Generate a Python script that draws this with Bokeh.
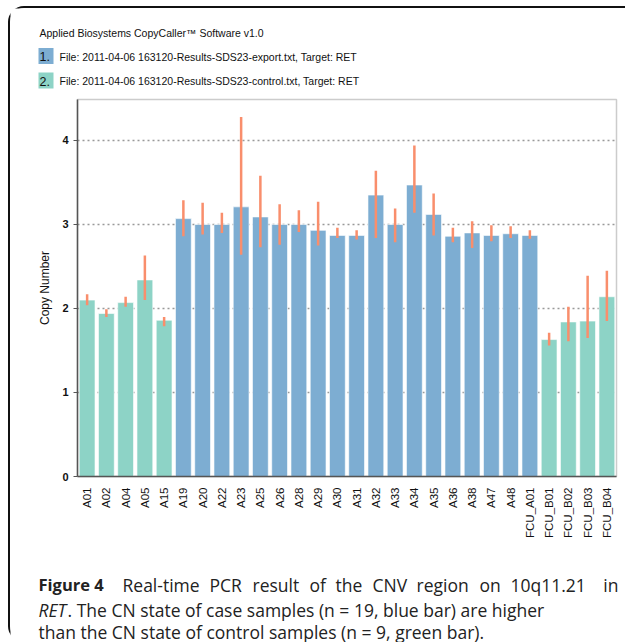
from bokeh.plotting import figure
from bokeh.models import Range1d, FactorRange, ColumnDataSource
from bokeh.layouts import column
from bokeh.transform import factor_cmap
from bokeh.core.properties import value
from bokeh.embed import file_html
from bokeh.resources import INLINE
import math

samples = ["A01", "A02", "A04", "A05", "A15", "A19", "A20", "A22", "A23", "A25",
           "A26", "A28", "A29", "A30", "A31", "A32", "A33", "A34", "A35", "A36",
           "A38", "A47", "A48", "FCU_A01", "FCU_B01", "FCU_B02", "FCU_B03", "FCU_B04"]
groups = ["control"] * 5 + ["case"] * 19 + ["control"] * 4
copy_number = [2.10, 1.94, 2.07, 2.34, 1.86, 3.07, 3.00, 3.00, 3.21, 3.09,
               3.00, 3.00, 2.93, 2.87, 2.87, 3.35, 3.00, 3.47, 3.12, 2.86,
               2.90, 2.87, 2.89, 2.87, 1.63, 1.84, 1.85, 2.14]
err_low = [2.04, 1.90, 2.02, 2.10, 1.79, 2.86, 2.88, 2.90, 2.64, 2.73,
           2.76, 2.91, 2.75, 2.84, 2.82, 2.84, 2.79, 3.14, 2.87, 2.79,
           2.72, 2.80, 2.84, 2.83, 1.56, 1.61, 1.65, 1.85]
err_high = [2.17, 1.99, 2.14, 2.63, 1.90, 3.29, 3.26, 3.14, 4.28, 3.58,
            3.24, 3.17, 3.27, 2.96, 2.93, 3.64, 3.19, 3.94, 3.37, 2.96,
            3.04, 2.99, 2.98, 2.93, 1.71, 2.02, 2.39, 2.45]
y_ticks = [0, 1, 2, 3, 4]
legend_labels = ["File: 2011-04-06 163120-Results-SDS23-export.txt, Target: RET",
                 "File: 2011-04-06 163120-Results-SDS23-control.txt, Target: RET"]
header_text = "Applied Biosystems CopyCaller\u2122 Software v1.0"

BLUE = "#7DADD2"
GREEN = "#8DD3C6"
ERR = "#F98E6C"
INK = "#111111"
CAPINK = "#222222"
W = 615
HFONT = "Liberation Sans"


def blank(width, height):
    f = figure(width=width, height=height, output_backend="svg", toolbar_location=None,
               x_range=Range1d(0, width), y_range=Range1d(height, 0),
               min_border=0, min_border_left=0, min_border_right=0,
               min_border_top=0, min_border_bottom=0, frame_align=False)
    f.axis.visible = False
    f.grid.visible = False
    f.outline_line_color = None
    return f


def txt(f, x, y, t, font="Liberation Sans", size="12px", style="normal", align="left",
        color=INK):
    f.text(x=[x], y=[y], text=[t], text_font=value(font), text_font_size=value(size),
           text_font_style=style, text_align=align, text_baseline="middle",
           text_color=color)


# ---------- header ----------
hdr = blank(W, 84)
txt(hdr, 29, 24, header_text, font=HFONT, size="10.5px")
hdr.rect(x=[35.5, 35.5], y=[47.5, 72], width=15, height=16, fill_color=[BLUE, GREEN], line_color=None)
txt(hdr, 29, 48, "1.", size="12.5px")
txt(hdr, 29, 72.5, "2.", size="12.5px")
txt(hdr, 49, 48, legend_labels[0], font=HFONT, size="10.5px")
txt(hdr, 49, 72.5, legend_labels[1], font=HFONT, size="10.5px")

# ---------- chart ----------
src = ColumnDataSource(dict(sample=samples, group=groups, cn=copy_number,
                            lo=err_low, hi=err_high))

p = figure(width=W, height=478, output_backend="svg", toolbar_location=None,
           x_range=FactorRange(*samples, range_padding=0), y_range=Range1d(0, 4.488),
           min_border_left=67, min_border_right=9, min_border_top=7, min_border_bottom=94,
           frame_align=False)

p.vbar(x="sample", top="cn", width=0.82, source=src,
       fill_color=factor_cmap("group", [BLUE, GREEN], ["case", "control"]),
       line_color="white", line_alpha=0.6, line_width=1)
p.segment(x0="sample", y0="lo", x1="sample", y1="hi", source=src,
          line_color=ERR, line_width=2.5)

p.xgrid.grid_line_color = None
p.ygrid.grid_line_color = "#999999"
p.ygrid.grid_line_dash = "2 3"
p.ygrid.grid_line_width = 1.5
p.yaxis.ticker = y_ticks
p.outline_line_color = "#cccccc"
p.outline_line_width = 1.5

p.xaxis.major_label_orientation = math.pi / 2
p.xaxis.major_label_text_font = "Liberation Sans"
p.xaxis.major_label_text_font_size = "11.5px"
p.xaxis.major_label_text_color = INK
p.xaxis.major_tick_line_color = None
p.xaxis.minor_tick_line_color = None
p.xaxis.major_label_standoff = 5
p.xaxis.axis_line_color = "#555555"
p.xaxis.axis_line_width = 1.5

p.yaxis.major_label_text_font = "Liberation Sans"
p.yaxis.major_label_text_font_size = "11px"
p.yaxis.major_label_text_font_style = "bold"
p.yaxis.major_label_text_color = INK
p.yaxis.major_tick_in = 0
p.yaxis.major_tick_out = 4
p.yaxis.major_tick_line_color = "#555555"
p.yaxis.minor_tick_line_color = None
p.yaxis.axis_line_color = "#555555"
p.yaxis.axis_line_width = 1.5
p.yaxis.major_label_standoff = 5
p.yaxis.axis_label = "Copy Number"
p.yaxis.axis_label_text_font = "Liberation Sans"
p.yaxis.axis_label_text_font_size = "12px"
p.yaxis.axis_label_text_font_style = "normal"
p.yaxis.axis_label_text_color = INK
p.yaxis.axis_label_standoff = 7

# ---------- caption ----------
cap = blank(W, 72)
CAP = "Open Sans"
FS = "17.5px"
line1_words = ["Real-time", "PCR", "result", "of", "the", "CNV", "region", "on", "10q11.21"]
line1_x = [112, 199, 242, 299, 325, 362, 406, 469, 500]
txt(cap, 28, 14, "Figure 4", font=CAP, size="16.5px", style="bold", color=CAPINK)
for wx, wd in zip(line1_x, line1_words):
    txt(cap, wx, 14, wd, font=CAP, size=FS, color=CAPINK)
txt(cap, 608, 14, "in", font=CAP, size=FS, align="right", color=CAPINK)
txt(cap, 28, 39, "RET", font=CAP, size=FS, style="italic", color=CAPINK)
txt(cap, 57, 39, ". The CN state of case samples (n = 19, blue bar) are higher", font=CAP, size=FS, color=CAPINK)
txt(cap, 28, 61, "than the CN state of control samples (n = 9, green bar).", font=CAP, size=FS, color=CAPINK)

layout = column(hdr, p, cap)
layout.styles = {"border-top": "2px solid #111", "border-left": "2px solid #111",
                 "border-top-left-radius": "16px", "border-bottom-left-radius": "16px",
                 "margin-left": "8px", "margin-top": "6px"}
open("out.html", "w").write(file_html(layout, INLINE))
